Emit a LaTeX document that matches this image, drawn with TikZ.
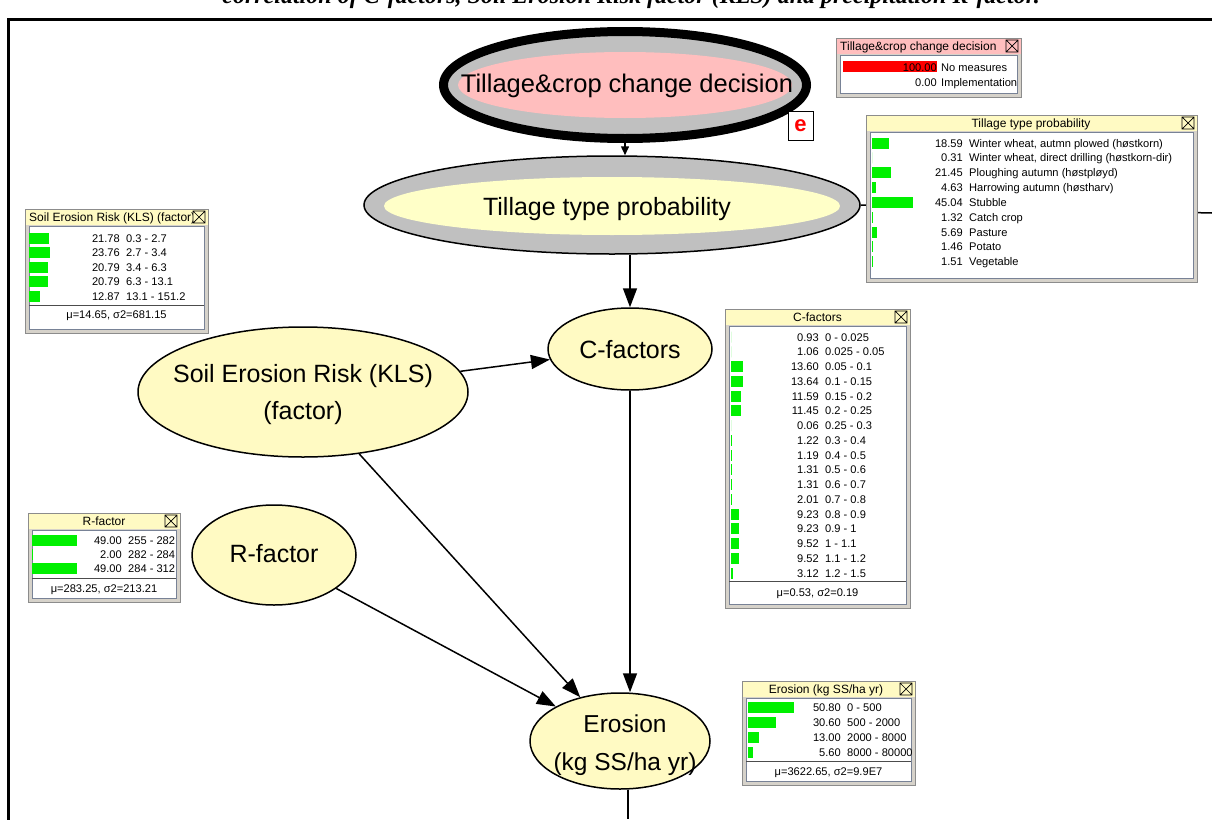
\documentclass[tikz,border=0pt]{standalone}
\usepackage{fontspec}
\setmainfont{Liberation Sans}
\newfontfamily\capfont{Liberation Serif}
\usetikzlibrary{shapes.geometric,arrows.meta}
\definecolor{nodey}{RGB}{255,250,195}
\definecolor{tilly}{RGB}{255,255,200}
\definecolor{ringg}{RGB}{192,192,192}
\definecolor{pinkf}{RGB}{255,190,190}
\definecolor{ttlyel}{RGB}{255,250,195}
\definecolor{ttlpink}{RGB}{255,190,190}
\definecolor{frameg}{RGB}{214,210,202}
\definecolor{bodyedge}{RGB}{120,130,150}
\definecolor{bargreen}{RGB}{0,240,0}
\tikzset{
  ell/.style={ellipse, draw=black, line width=1.5pt, inner sep=0pt, fill=nodey},
  ntxt/.style={inner sep=0pt, font=\fontsize{25}{37}\selectfont, align=center},
  arr/.style={line width=1.5pt, -{Triangle[length=19pt,width=14pt]}},
  rowtxt/.style={font=\fontsize{11.1}{11.1}\selectfont, inner sep=0pt},
  ttl/.style={font=\fontsize{12}{12}\selectfont, inner sep=0pt},
  sepline/.style={line width=1pt, black!70},
}
% #1 name #2 x0 #3 y0 #4 x1 #5 y1 #6 title fill #7 title #8 anchor #9 title x
\newcommand\monframe[9]{%
  \fill[frameg] (#2,#3) rectangle (#4,#5);
  \draw[black!45, line width=0.8pt] (#2,#3) rectangle (#4,#5);
  \fill[#6] (#2+0.5,#3+0.5) rectangle (#4-0.5,#3+16);
  \fill[white] (#2+4,#3+17) rectangle (#4-4,#5-4);
  \draw[bodyedge, line width=0.8pt] (#2+4,#3+17) rectangle (#4-4,#5-4);
  \begin{scope}
    \clip (#2,#3) rectangle (#4-16,#3+16);
    \node[ttl, anchor=base #8] (#1) at (#9,#3+12.5) {#7};
  \end{scope}
  \draw[black, line width=0.7pt] (#4-15,#3+2) rectangle (#4-3,#3+14)
     (#4-15,#3+2) -- (#4-3,#3+14) (#4-15,#3+14) -- (#4-3,#3+2);
}
% #1 prefix #2 barx #3 numx #4 y0 #5 dy #6 list
\newcommand\monrows[6]{%
  \foreach[count=\i] \p/\l in {#6} {
    \pgfmathsetmacro\yy{#4+(\i-1)*#5}
    \fill[bargreen] (#2,\yy-5.5) rectangle ++({int(\p*0.92)},11);
    \node[rowtxt, anchor=base east] (#1n\i) at (#3,\yy+4) {\p};
    \node[rowtxt, anchor=base west] (#1l\i) at (#3+6,\yy+4) {\l};
  }%
}
\begin{document}
\begin{tikzpicture}[x=1pt,y=-1pt]
\useasboundingbox (0,0) rectangle (1212,819);
\clip (0,0) rectangle (1212,819);
\fill[white] (0,0) rectangle (1212,819);

% caption (cut off)
\node[anchor=base east, inner sep=0pt, font=\capfont\bfseries\itshape\fontsize{24}{24}\selectfont] (cap) at (1040,4) {correlation of C-factors, Soil Erosion Risk factor (KLS) and precipitation R-factor.};

% frame
\draw[line width=3pt] (1216,19.5) -| (8.5,824);

% nodes
\node[ell, minimum width=363pt, minimum height=107pt, fill=ringg, line width=9pt] (dec) at (625,85) {};
\fill[pinkf] (625,85) ellipse [x radius=167pt, y radius=33pt];
\node[ntxt, font=\fontsize{25.5}{25.5}\selectfont] (dect) at (627,86) {Tillage\&crop change decision};

\node[ell, minimum width=496pt, minimum height=98pt, fill=ringg] (till) at (612,205) {};
\fill[tilly] (612,206) ellipse [x radius=228pt, y radius=29pt];
\node[ntxt] (tillt) at (607,209) {Tillage type probability};

\node[ell, minimum width=164pt, minimum height=82pt] (cf) at (630,349) {};
\node[ntxt] (cft) at (630,350) {C-factors};
\node[ell, minimum width=330pt, minimum height=130pt] (soil) at (303,392) {};
\node[ntxt] (soilt) at (303,395) {Soil Erosion Risk (KLS)\\(factor)};
\node[ell, minimum width=164pt, minimum height=100pt] (rf) at (274,555) {};
\node[ntxt] (rft) at (274,554) {R-factor};
\node[ell, minimum width=180pt, minimum height=96pt] (ero) at (620,741) {};
\node[ntxt, font=\fontsize{24.5}{38}\selectfont] (erot) at (625,745) {Erosion\\(kg SS/ha yr)};

\node[draw=black, line width=0.8pt, fill=white, minimum width=25pt, minimum height=29pt, inner sep=0pt, text=red, font=\bfseries\fontsize{22}{22}\selectfont] (evid) at (800.5,126) {e};

% connectors
\coordinate (rt) at (1212,213);
\coordinate (bot) at (628,819);
\draw[line width=1.5pt] (till.east) -- (rt);
\draw[line width=1.5pt] (ero.south -| bot) -- (bot);
\draw[line width=1.5pt, -{Triangle[length=9pt,width=8pt]}] (dec.south) -- (dec.south |- till.north);
\draw[arr] (till.south -| cf.north) -- (cf.north);
\draw[arr] (soil) -- (cf);
\draw[arr] (soil) -- (ero);
\draw[arr] (rf) -- (ero);
\draw[arr] (cf.south) -- (cf.south |- ero.north);

% monitor: decision
\monframe{dbox}{836}{38}{1021}{97}{ttlpink}{Tillage\&crop change decision}{west}{840}
\begin{scope}
\clip (840,55) rectangle (1017,93);
\fill[red] (843,61) rectangle (937,72);
\node[rowtxt, anchor=base east] (dn1) at (937,71) {100.00};
\node[rowtxt, anchor=base west] (dl1) at (941,71) {No measures};
\node[rowtxt, anchor=base east] (dn2) at (937,86) {0.00};
\node[rowtxt, anchor=base west] (dl2) at (941,86) {Implementation};
\end{scope}

% monitor: tillage type
\monframe{tbox}{866}{115}{1197}{282}{ttlyel}{Tillage type probability}{}{1031}
\begin{scope}
\clip (870,132) rectangle (1193,278);
\monrows{tt}{872}{963}{143}{14.85}{18.59/{Winter wheat, autmn plowed (høstkorn)},0.31/{Winter wheat, direct drilling (høstkorn-dir)},21.45/{Ploughing autumn (høstpløyd)},4.63/{Harrowing autumn (høstharv)},45.04/Stubble,1.32/Catch crop,5.69/Pasture,1.46/Potato,1.51/Vegetable}
\end{scope}

% monitor: soil
\monframe{sbox}{25}{209}{208}{333}{ttlyel}{Soil Erosion Risk (KLS) (factor)}{west}{29}
\begin{scope}
\clip (29,226) rectangle (204,329);
\monrows{ss}{29}{120}{238}{14.6}{21.78/0.3 - 2.7,23.76/2.7 - 3.4,20.79/3.4 - 6.3,20.79/6.3 - 13.1,12.87/13.1 - 151.2}
\end{scope}
\draw[sepline] (29,305) -- (204,305);
\node[rowtxt] (sstat) at (116.5,316) {μ=14.65, σ2=681.15};

% monitor: C-factors
\monframe{cbox}{725}{309}{910}{608}{ttlyel}{C-factors}{}{817.5}
\begin{scope}
\clip (729,326) rectangle (906,604);
\monrows{cc}{731}{819}{337}{14.75}{0.93/0 - 0.025,1.06/0.025 - 0.05,13.60/0.05 - 0.1,13.64/0.1 - 0.15,11.59/0.15 - 0.2,11.45/0.2 - 0.25,0.06/0.25 - 0.3,1.22/0.3 - 0.4,1.19/0.4 - 0.5,1.31/0.5 - 0.6,1.31/0.6 - 0.7,2.01/0.7 - 0.8,9.23/0.8 - 0.9,9.23/0.9 - 1,9.52/1 - 1.1,9.52/1.1 - 1.2,3.12/1.2 - 1.5}
\end{scope}
\draw[sepline] (729,581) -- (906,581);
\node[rowtxt] (cstat) at (817.5,594) {μ=0.53, σ2=0.19};

% monitor: R-factor
\monframe{rbox}{28}{513}{180}{602}{ttlyel}{R-factor}{}{104}
\begin{scope}
\clip (32,530) rectangle (176,598);
\monrows{rr}{32}{122}{540}{14}{49.00/255 - 282,2.00/282 - 284,49.00/284 - 312}
\end{scope}
\draw[sepline] (32,578) -- (176,578);
\node[rowtxt] (rstat) at (104,590) {μ=283.25, σ2=213.21};

% monitor: Erosion
\monframe{ebox}{742}{681}{915}{785}{ttlyel}{Erosion (kg SS/ha yr)}{}{826}
\begin{scope}
\clip (746,698) rectangle (911,781);
\monrows{ee}{748}{841}{707}{15}{50.80/0 - 500,30.60/500 - 2000,13.00/2000 - 8000,5.60/8000 - 80000}
\end{scope}
\draw[sepline] (746,761) -- (911,761);
\node[rowtxt] (estat) at (828.5,773) {μ=3622.65, σ2=9.9E7};
\end{tikzpicture}
\end{document}
